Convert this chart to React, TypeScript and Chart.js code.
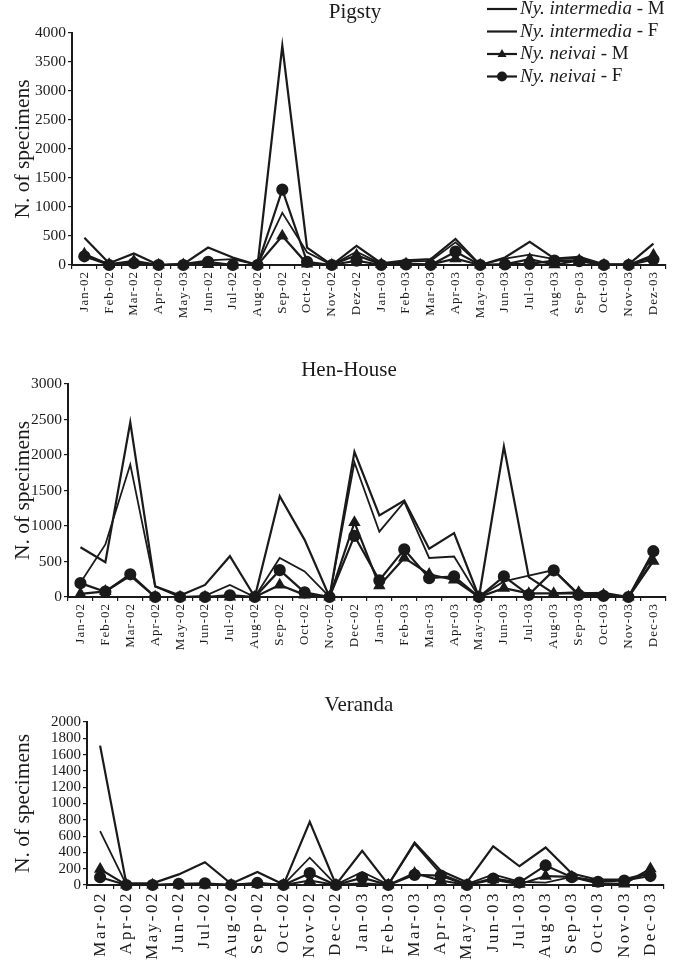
import React, { useEffect, useRef } from "react";
import { Chart, registerables } from "chart.js";
Chart.register(...registerables);

const FONT = "'Liberation Serif', 'Times New Roman', serif";
const INK = "#1a1a1a";

const pigstyMonths = ["Jan-02","Feb-02","Mar-02","Apr-02","May-03","Jun-02","Jul-02","Aug-02","Sep-02","Oct-02","Nov-02","Dez-02","Jan-03","Feb-03","Mar-03","Apr-03","May-03","Jun-03","Jul-03","Aug-03","Sep-03","Oct-03","Nov-03","Dez-03"];
const pigstyIntM = [470, 30, 200, 0, 15, 300, 130, 0, 3780, 300, 0, 330, 30, 80, 100, 450, 0, 130, 400, 110, 140, 10, 10, 370];
const pigstyIntF = [150, 20, 40, 0, 20, 80, 100, 0, 900, 220, 0, 230, 20, 60, 70, 390, 0, 110, 180, 100, 110, 10, 10, 130];
const pigstyNeiM = [190, 10, 70, 0, 5, 10, 0, 0, 500, 20, 0, 170, 10, 20, 10, 110, 0, 10, 100, 5, 80, 0, 0, 170];
const pigstyNeiF = [150, 0, 30, 0, 0, 55, 0, 0, 1300, 55, 0, 75, 0, 10, 0, 230, 0, 10, 20, 75, 65, 0, 0, 95];

const henMonths = ["Jan-02","Feb-02","Mar-02","Apr-02","May-02","Jun-02","Jul-02","Aug-02","Sep-02","Oct-02","Nov-02","Dec-02","Jan-03","Feb-03","Mar-03","Apr-03","May-03","Jun-03","Jul-03","Aug-03","Sep-03","Oct-03","Nov-03","Dec-03"];
const henIntM = [700, 490, 2460, 150, 20, 170, 575, 0, 1420, 805, 0, 2045, 1150, 1360, 680, 900, 0, 2120, 280, 50, 50, 60, 0, 520];
const henIntF = [200, 740, 1865, 150, 0, 15, 170, 0, 550, 360, 0, 1895, 920, 1340, 550, 570, 0, 220, 300, 380, 40, 30, 0, 600];
const henNeiM = [45, 80, 300, 0, 0, 0, 0, 0, 170, 30, 0, 1050, 160, 550, 320, 240, 0, 125, 50, 50, 65, 30, 0, 505];
const henNeiF = [195, 75, 320, 0, 0, 0, 25, 0, 378, 65, 0, 860, 235, 670, 265, 290, 0, 290, 30, 375, 30, 15, 0, 645];

const verandaMonths = ["Mar-02","Apr-02","May-02","Jun-02","Jul-02","Aug-02","Sep-02","Oct-02","Nov-02","Dec-02","Jan-03","Feb-03","Mar-03","Apr-03","May-03","Jun-03","Jul-03","Aug-03","Sep-03","Oct-03","Nov-03","Dec-03"];
const verIntM = [1710, 20, 20, 130, 280, 15, 160, 5, 775, 5, 420, 5, 520, 175, 35, 475, 230, 460, 140, 65, 70, 150];
const verIntF = [660, 5, 0, 10, 15, 5, 20, 5, 335, 5, 160, 5, 505, 135, 10, 130, 40, 30, 100, 55, 60, 140];
const verNeiM = [195, 0, 0, 0, 0, 0, 10, 0, 55, 0, 20, 0, 145, 55, 0, 65, 10, 110, 100, 20, 15, 200];
const verNeiF = [95, 0, 0, 15, 20, 0, 25, 0, 145, 0, 90, 0, 125, 115, 0, 80, 30, 240, 95, 40, 55, 110];

const seriesNames = ["Ny. intermedia", "Ny. intermedia", "Ny. neivai", "Ny. neivai"];
const seriesSex = [" - M", " - F", " - M", " - F"];
const seriesMarkers = ["none", "none", "triangle", "circle"];

function makeDatasets(intM: number[], intF: number[], neiM: number[], neiF: number[]) {
  const base = {
    borderColor: INK,
    backgroundColor: INK,
    pointBorderColor: INK,
    pointBackgroundColor: INK,
    fill: false,
    tension: 0,
    clip: false as any,
    pointHoverRadius: 0,
  };
  return [
    { ...base, label: seriesNames[0] + seriesSex[0], data: intM, borderWidth: 2.2, pointRadius: 0 },
    { ...base, label: seriesNames[1] + seriesSex[1], data: intF, borderWidth: 1.8, pointRadius: 0 },
    { ...base, label: seriesNames[2] + seriesSex[2], data: neiM, borderWidth: 2.2, pointRadius: 5, pointStyle: "triangle" },
    { ...base, label: seriesNames[3] + seriesSex[3], data: neiF, borderWidth: 2.2, pointRadius: 5, pointStyle: "circle" },
  ];
}

const panelPlugin = {
  id: "panelDecor",
  afterDraw(chart: any) {
    const opts = chart.options.plugins.panelDecor;
    if (!opts) return;
    const ctx = chart.ctx;
    ctx.save();
    ctx.fillStyle = INK;
    ctx.textBaseline = "middle";
    ctx.textAlign = "center";
    ctx.font = `${opts.titleSize}px ${FONT}`;
    ctx.fillText(opts.title, opts.titleX, opts.titleY);
    if (opts.legend) {
      const lg = opts.legend;
      for (let i = 0; i < 4; i++) {
        const y = lg.y0 + i * lg.dy;
        ctx.strokeStyle = INK;
        ctx.fillStyle = INK;
        ctx.lineWidth = 2.2;
        ctx.beginPath();
        ctx.moveTo(lg.x0, y);
        ctx.lineTo(lg.x0 + lg.len, y);
        ctx.stroke();
        const cx = lg.x0 + lg.len / 2;
        if (seriesMarkers[i] === "circle") {
          ctx.beginPath();
          ctx.arc(cx, y, 5, 0, Math.PI * 2);
          ctx.fill();
        } else if (seriesMarkers[i] === "triangle") {
          ctx.beginPath();
          ctx.moveTo(cx, y - 5);
          ctx.lineTo(cx + 4.5, y + 3);
          ctx.lineTo(cx - 4.5, y + 3);
          ctx.closePath();
          ctx.fill();
        }
        ctx.textAlign = "left";
        ctx.font = `italic ${lg.size}px ${FONT}`;
        const tx = lg.x0 + lg.len + 3;
        ctx.fillText(seriesNames[i], tx, y);
        const w = ctx.measureText(seriesNames[i]).width;
        ctx.font = `${lg.size}px ${FONT}`;
        ctx.fillText(seriesSex[i], tx + w, y);
      }
    }
    ctx.restore();
  },
};

type Spec = {
  labels: string[];
  sets: any[];
  title: string;
  titleX: number;
  titleY: number;
  max: number;
  step: number;
  axisWidth: number;
  top: number;
  xHeight: number;
  padRight: number;
  xFont: number;
  xSpacing: number;
  yFont: number;
  legend: any;
};

function patchLetterSpacing(scale: any, spacing: number) {
  if (scale.__lsPatched) return;
  scale.__lsPatched = true;
  const orig = scale.drawLabels.bind(scale);
  scale.drawLabels = (area: any) => {
    const ctx = scale.ctx;
    const prev = ctx.letterSpacing;
    ctx.letterSpacing = spacing + "px";
    orig(area);
    ctx.letterSpacing = prev || "0px";
  };
}

function buildConfig(s: Spec): any {
  return {
    type: "line",
    data: { labels: s.labels, datasets: s.sets },
    plugins: [panelPlugin],
    options: {
      responsive: false,
      animation: false,
      devicePixelRatio: 1,
      layout: { padding: { left: 0, right: s.padRight, top: s.top, bottom: 0 } },
      plugins: {
        legend: { display: false },
        tooltip: { enabled: false },
        title: { display: false },
        panelDecor: { title: s.title, titleX: s.titleX, titleY: s.titleY, titleSize: 21, legend: s.legend },
      },
      scales: {
        x: {
          type: "category",
          offset: true,
          afterFit: (scale: any) => { scale.height = s.xHeight; patchLetterSpacing(scale, s.xSpacing); },
          border: { display: true, color: INK, width: 2 },
          grid: { display: true, offset: true, drawOnChartArea: false, drawTicks: true, tickLength: 4, color: INK, lineWidth: 1.2 },
          ticks: {
            autoSkip: false,
            minRotation: 90,
            maxRotation: 90,
            color: INK,
            padding: 2,
            font: { family: FONT, size: s.xFont },
          },
        },
        y: {
          min: 0,
          max: s.max,
          afterFit: (scale: any) => { scale.width = s.axisWidth; },
          border: { display: true, color: INK, width: 2 },
          grid: { display: true, drawOnChartArea: false, drawTicks: true, tickLength: 4, color: INK, lineWidth: 1.2 },
          ticks: {
            stepSize: s.step,
            autoSkip: false,
            color: INK,
            padding: 2,
            font: { family: FONT, size: s.yFont },
            callback: (v: any) => String(v),
          },
          title: {
            display: true,
            text: "N. of specimens",
            color: INK,
            font: { family: FONT, size: 21.5 },
            padding: { top: 10, bottom: 0 },
          },
        },
      },
    },
  };
}

function Panel(props: { spec: Spec; top: number; height: number }) {
  const ref = useRef<HTMLCanvasElement | null>(null);
  useEffect(() => {
    if (!ref.current) return;
    const chart = new Chart(ref.current, buildConfig(props.spec));
    return () => chart.destroy();
  }, []);
  return (
    <div style={{ position: "absolute", left: 0, top: props.top, width: 673, height: props.height }}>
      <canvas ref={ref} width={673} height={props.height} style={{ display: "block", width: 673, height: props.height }} />
    </div>
  );
}

export default function App() {
  const pig: Spec = {
    labels: pigstyMonths,
    sets: makeDatasets(pigstyIntM, pigstyIntF, pigstyNeiM, pigstyNeiF),
    title: "Pigsty", titleX: 355, titleY: 12,
    max: 4000, step: 500, axisWidth: 72, top: 33, xHeight: 60, padRight: 4,
    xFont: 13, xSpacing: 1, yFont: 15.5, legend: { x0: 487, len: 30, y0: 9, dy: 22.5, size: 19 },
  };
  const hen: Spec = {
    labels: henMonths,
    sets: makeDatasets(henIntM, henIntF, henNeiM, henNeiF),
    title: "Hen-House", titleX: 349, titleY: 30,
    max: 3000, step: 500, axisWidth: 68, top: 44, xHeight: 58, padRight: 3,
    xFont: 13, xSpacing: 1, yFont: 15.5, legend: null,
  };
  const ver: Spec = {
    labels: verandaMonths,
    sets: makeDatasets(verIntM, verIntF, verNeiM, verNeiF),
    title: "Veranda", titleX: 359, titleY: 45,
    max: 2000, step: 200, axisWidth: 87, top: 62, xHeight: 90, padRight: 5,
    xFont: 17, xSpacing: 2.5, yFont: 15, legend: null,
  };
  return (
    <div style={{ position: "absolute", left: 0, top: 0, width: 673, height: 975, background: "#fff", overflow: "hidden" }}>
      <Panel spec={pig} top={0} height={325} />
      <Panel spec={hen} top={340} height={315} />
      <Panel spec={ver} top={660} height={315} />
    </div>
  );
}
